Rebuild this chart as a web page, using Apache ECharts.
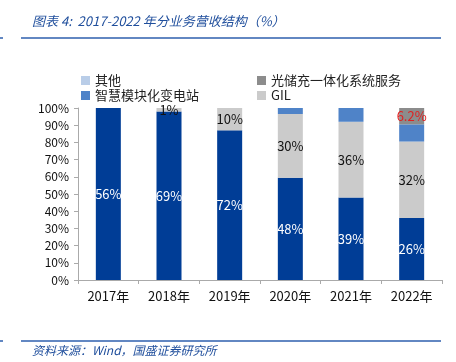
<!DOCTYPE html>
<html><head><meta charset="utf-8">
<script src="https://cdn.jsdelivr.net/npm/echarts@6/dist/echarts.min.js"></script>
<style>html,body{margin:0;padding:0;background:#fff}#c{width:456px;height:362px}</style>
</head><body><div id="c"></div>
<script>
const categories = ['2017年','2018年','2019年','2020年','2021年','2022年'];
const yTicks = ['0%','10%','20%','30%','40%','50%','60%','70%','80%','90%','100%'];
// bar heights as drawn (%)
const mainValues  = [100, 98, 87, 59.5, 48, 36];
const gilValues   = [0, 2, 13, 37, 44, 44.5];
const smartValues = [0, 0, 0, 3.5, 8, 10];
const pvValues    = [0, 0, 0, 0, 0, 9.5];
const otherValues = [0, 0, 0, 0, 0, 0];
// labels as printed
const mainLabels  = ['56%','69%','72%','48%','39%','26%'];
const gilLabels   = ['','1%','10%','30%','36%','32%'];
const pvLabels    = ['','','','','','6.2%'];

const font = '"Noto Sans CJK SC", "Liberation Sans", sans-serif';
const chart = echarts.init(document.getElementById('c'));
function lab(arr, color) {
  return { show: true, position: 'inside', color: color, fontSize: 13, fontFamily: font,
    formatter: p => arr[p.dataIndex] || '' };
}
chart.setOption({
  animation: false,
  textStyle: { fontFamily: font },
  grid: { left: 78, right: 14, top: 108, bottom: 82 },
  graphic: [
    { type: 'text', left: 32, top: 15, style: { text: '图表 4:  2017-2022 年分业务营收结构（%）', fill: '#1f4e9c', font: 'italic 13px ' + font } },
    { type: 'line', shape: { x1: 21, y1: 38, x2: 441, y2: 38 }, style: { stroke: '#2e5fae', lineWidth: 1.5 } },
    { type: 'line', shape: { x1: 0, y1: 38, x2: 3, y2: 38 }, style: { stroke: '#2e5fae', lineWidth: 1.5 } },
    { type: 'line', shape: { x1: 21, y1: 341, x2: 441, y2: 341 }, style: { stroke: '#2e5fae', lineWidth: 1.5 } },
    { type: 'line', shape: { x1: 0, y1: 341, x2: 3, y2: 341 }, style: { stroke: '#2e5fae', lineWidth: 1.5 } },
    { type: 'text', left: 32, top: 344, style: { text: '资料来源：Wind，国盛证券研究所', fill: '#1f4e9c', font: 'italic 12px ' + font } }
  ],
  legend: [
    { data: ['其他','智慧模块化变电站'], orient: 'vertical', left: 76, top: 69, itemWidth: 9, itemHeight: 9, itemGap: 2,
      icon: 'rect', textStyle: { fontSize: 13, color: '#222', fontFamily: font } },
    { data: ['光储充一体化系统服务','GIL'], orient: 'vertical', left: 252, top: 69, itemWidth: 9, itemHeight: 9, itemGap: 2,
      icon: 'rect', textStyle: { fontSize: 13, color: '#222', fontFamily: font } }
  ],
  xAxis: {
    type: 'category', data: categories,
    axisLine: { lineStyle: { color: '#aaaaaa' } },
    axisTick: { show: true, length: 4, lineStyle: { color: '#aaaaaa' } },
    axisLabel: { color: '#111', fontSize: 13, margin: 10, fontFamily: font }
  },
  yAxis: {
    type: 'value', min: 0, max: 100, interval: 10,
    axisLine: { show: true, lineStyle: { color: '#aaaaaa' } },
    axisTick: { show: true, length: 4, lineStyle: { color: '#aaaaaa' } },
    splitLine: { show: false },
    axisLabel: { color: '#111', fontSize: 12, margin: 9, fontFamily: font, formatter: (v) => yTicks[Math.round(v / 10)] }
  },
  series: [
    { name: '主营', type: 'bar', stack: 's', barWidth: 25, data: mainValues,
      itemStyle: { color: '#003d96' }, label: lab(mainLabels, '#ffffff') },
    { name: 'GIL', type: 'bar', stack: 's', data: gilValues,
      itemStyle: { color: '#cbcbcb' }, label: lab(gilLabels, '#111111') },
    { name: '智慧模块化变电站', type: 'bar', stack: 's', data: smartValues,
      itemStyle: { color: '#4f83c8' } },
    { name: '光储充一体化系统服务', type: 'bar', stack: 's', data: pvValues,
      itemStyle: { color: '#8c8c8c' }, label: lab(pvLabels, '#e02020') },
    { name: '其他', type: 'bar', stack: 's', data: otherValues,
      itemStyle: { color: '#b9cde8' } }
  ]
});
</script></body></html>
